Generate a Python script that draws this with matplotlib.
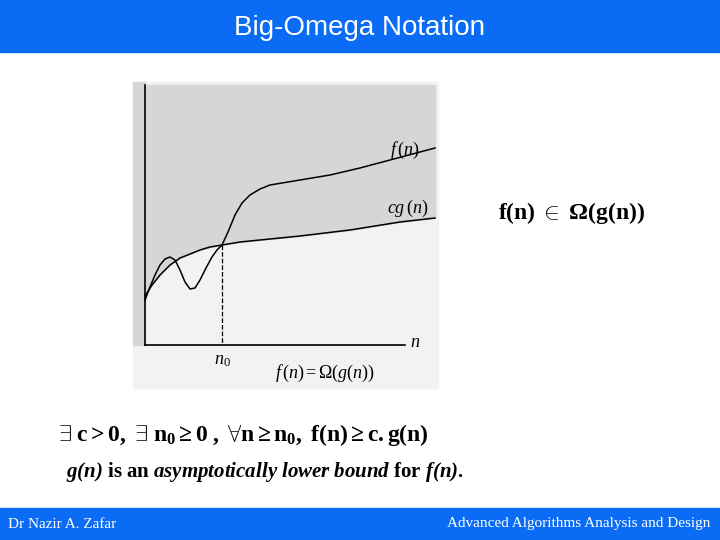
import matplotlib
matplotlib.use("Agg")
import matplotlib.pyplot as plt
from matplotlib.patches import Rectangle

plt.rcParams['mathtext.fontset'] = 'custom'
plt.rcParams['mathtext.rm'] = 'Liberation Serif'
plt.rcParams['mathtext.it'] = 'Liberation Serif:italic'
plt.rcParams['mathtext.bf'] = 'Liberation Serif:bold'
plt.rcParams['mathtext.bfit'] = 'Liberation Serif:bold:italic'

title = "Big-Omega Notation"
footer_left = "Dr Nazir A. Zafar"
footer_right = "Advanced Algorithms Analysis and Design"

f_x = [145,150,155,160,165,170,175,180,185,190,195,200,206,212,217,222,228,235,242,250,260,270,300,330,360,390,435]
f_y = [300,287,275,265,259,257,260,270,282,289,288,280,268,257,250,245,232,215,203,195,189,185,180,175,168,160,148]
cg_x = [145,152,160,170,180,190,200,210,222,240,260,300,350,400,435]
cg_y = [296,285,275,265,258,254,250,247,245,242,240,236,230,222,218]
n0 = 222

fig = plt.figure(figsize=(7.2,5.4), dpi=100)
ax = fig.add_axes([0,0,1,1])
ax.set_xlim(0,720); ax.set_ylim(540,0); ax.axis('off')
blue = '#0a6cf5'
ax.add_patch(Rectangle((0,0),720,52,color=blue))
ax.add_patch(Rectangle((0,508),720,32,color=blue))
ax.text(360,28,title,color='white',fontsize=20,ha='center',va='center',family='Liberation Sans')
ax.text(8,524,footer_left,color='white',fontsize=11,va='center',family='Liberation Serif')
ax.text(710,524,footer_right,color='white',fontsize=11,va='center',ha='right',family='Liberation Serif')

ax.add_patch(Rectangle((133,82),305,306,color='#f2f2f2',zorder=0))
ax.fill_between(cg_x,[85]*len(cg_x),cg_y,color='#d6d6d6',zorder=1)
ax.add_patch(Rectangle((133,82),12,263,color='#d6d6d6',zorder=1))
ax.plot([145,145],[85,345],color='k',lw=1.2,zorder=3)
ax.plot([145,405],[345,345],color='k',lw=1.2,zorder=3)
ax.plot(f_x,f_y,color='k',lw=1.1,zorder=3)
ax.plot(cg_x,cg_y,color='k',lw=1.1,zorder=3)
ax.plot([n0,n0],[245,345],color='k',lw=0.9,ls='--',zorder=3)
ax.text(405,150,r'$f\,(n)$',fontsize=13,ha='center',va='center')
ax.text(408,208,r'$cg\,(n)$',fontsize=13,ha='center',va='center')
ax.text(415,342,r'$n$',fontsize=13,ha='center',va='center')
ax.text(222,360,r'$n_0$',fontsize=13,ha='center',va='center')
ax.text(325,373,r'$f\,(n) = \Omega(g(n))$',fontsize=13,ha='center',va='center')

ax.text(572,213,r'$\mathbf{f(n)\ \in\ \Omega(g(n))}$',fontsize=17,ha='center',va='center')
ax.text(58,435,r'$\mathbf{\exists\ c > 0,\ \exists\ n_0 \geq 0\ ,\ \forall n \geq n_0,\ f(n) \geq c.g(n)}$',fontsize=17,va='center')
ax.text(66,472,r'$\mathbfit{g(n)}\mathbf{\ is\ an\ }\mathbfit{asymptotically\ lower\ bound}\mathbf{\ for\ }\mathbfit{f(n)}\mathbf{.}$',fontsize=15,va='center')
fig.savefig('out.png',dpi=100)
